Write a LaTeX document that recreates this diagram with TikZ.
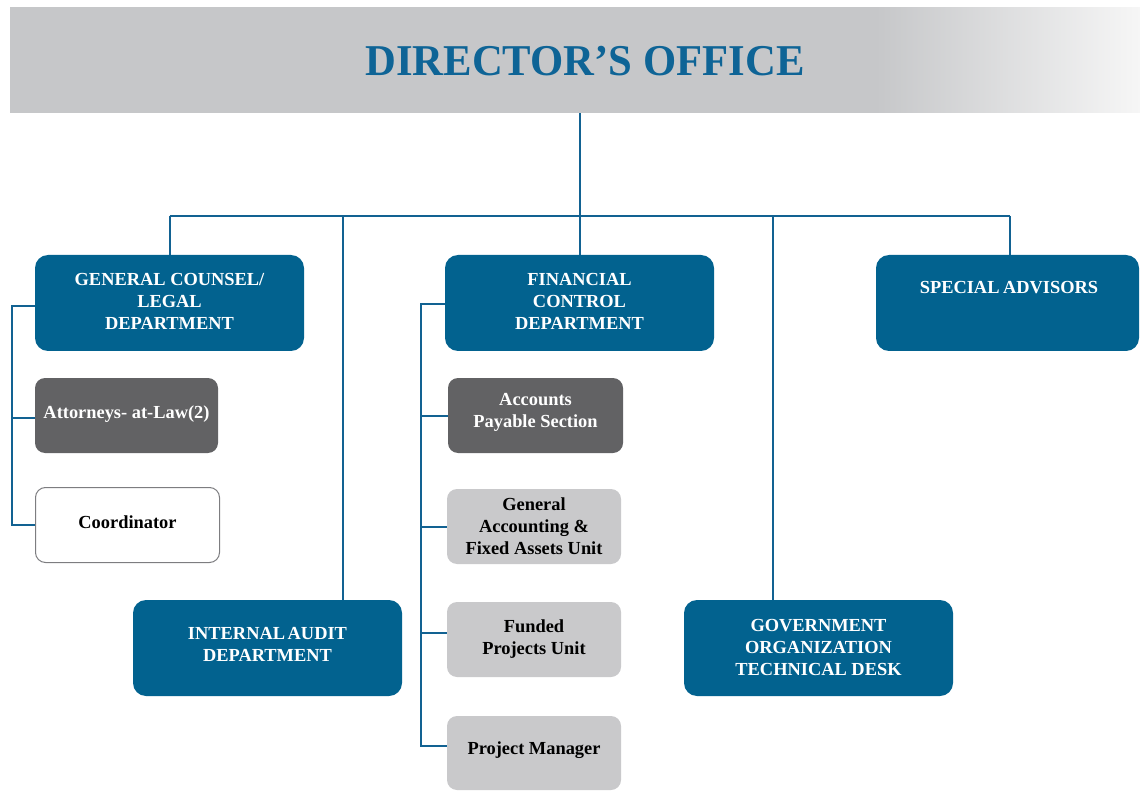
\documentclass[tikz,border=0pt]{standalone}
\usepackage{fontspec}
\setmainfont{Liberation Serif}
\usetikzlibrary{calc}
\definecolor{boxblue}{RGB}{2,98,143}
\definecolor{linkblue}{RGB}{18,98,146}
\definecolor{titleblue}{RGB}{14,100,150}
\definecolor{hdrgray}{RGB}{198,199,201}
\definecolor{hdrlight}{RGB}{246,246,246}
\definecolor{darkbox}{RGB}{98,98,100}
\definecolor{lightbox}{RGB}{201,201,203}
\definecolor{edgegray}{RGB}{125,125,128}
\pgfdeclarehorizontalshading{hdrshade}{100bp}{color(0bp)=(hdrgray); color(25bp)=(hdrgray); color(63.3bp)=(hdrgray); color(75bp)=(hdrlight); color(100bp)=(hdrlight)}
\tikzset{
  boxtext/.style={font=\fontsize{18.4}{22}\selectfont\bfseries, align=center, inner sep=0pt},
  bluebox/.style={boxtext, fill=boxblue, text=white, rounded corners=13pt},
  darkbx/.style={boxtext, fill=darkbox, text=white, rounded corners=10pt},
  lightbx/.style={boxtext, fill=lightbox, text=black, rounded corners=10pt},
  whitebx/.style={boxtext, fill=white, draw=edgegray, line width=1pt, text=black, rounded corners=10pt},
  conn/.style={draw=linkblue, line width=2pt}
}
\begin{document}
\begin{tikzpicture}[x=1pt,y=-1pt]
\useasboundingbox (0,0) rectangle (1140,791);
% header
\node[shading=hdrshade, minimum width=1130pt, minimum height=105pt, inner sep=0pt] (hdr) at (575,60.5) {};
\node[font=\fontsize{44}{50}\selectfont\bfseries, text=titleblue, inner sep=0pt] (title) at (585,61) {\scalebox{0.97}[1]{DIRECTOR’S OFFICE}};

% coordinates for bus and off-centre drops
\coordinate (bus) at (0,216);
\coordinate (iaT) at (343,600);
\coordinate (govT) at (773,600);
\coordinate (gcL) at (12,306);
\coordinate (fcL) at (421,304);

% connectors (drawn first, behind boxes)
\draw[conn] (hdr.south -| 579.5,0) -- (579.5,255);
\draw[conn] (169.5,216) -- (1010,216);
\draw[conn] (169.5,216) -- (169.5,255);
\draw[conn] (1010,216) -- (1010,255);
\draw[conn] (iaT |- bus) -- (iaT);
\draw[conn] (govT |- bus) -- (govT);

% department boxes
\node[bluebox, text depth=4pt, minimum width=269pt, minimum height=96pt] (gc) at (169.5,303) {GENERAL COUNSEL/\\LEGAL\\DEPARTMENT};
\node[bluebox, text depth=4pt, minimum width=269pt, minimum height=96pt] (fc) at (579.5,303) {FINANCIAL\\CONTROL\\DEPARTMENT};
\node[bluebox, minimum width=263pt, minimum height=96pt] (sa) at (1007.5,303) {};
\node[boxtext, text=white] (saT) at (1009,287.5) {SPECIAL\kern-1pt\ ADVISORS};
\node[bluebox, text depth=7pt, minimum width=269pt, minimum height=96pt] (ia) at (267.5,648) {INTERNAL\kern-2pt\ AUDIT\\DEPARTMENT};
\node[bluebox, text depth=2pt, minimum width=269pt, minimum height=96pt] (gov) at (818.5,648) {GOVERNMENT\\ORGANIZATION\\TECHNICAL DESK};

% legal sub-units
\node[darkbx, minimum width=183pt, minimum height=75pt] (att) at (126.5,415.5) {\raisebox{7pt}{Attorneys- at-Law(2)}};
\node[whitebx, minimum width=184pt, minimum height=75pt] (coord) at (127.5,525) {\raisebox{6pt}{Coordinator}};

% financial sub-units
\node[darkbx, text depth=10pt, minimum width=175pt, minimum height=75pt] (ap) at (535.5,415.5) {Accounts\\Payable Section};
\node[lightbx, minimum width=174pt, minimum height=75pt] (ga) at (534,526.5) {General\\Accounting \&\\Fixed Assets Unit};
\node[lightbx, minimum width=174pt, minimum height=75pt] (fp) at (534,639.5) {Funded\\Projects Unit};
\node[lightbx, minimum width=174pt, minimum height=74pt] (pm) at (534,753) {\raisebox{10pt}{Project Manager}};

% side connectors
\draw[conn] (gc.west |- gcL) -- (gcL) -- (gcL |- coord.west) -- (coord.west);
\draw[conn] (gcL |- 0,418) -- (att.west |- 0,418);
\draw[conn] (fc.west |- fcL) -- (fcL) -- (fcL |- 0,746) -- (pm.west |- 0,746);
\draw[conn] (fcL |- ap.west) -- (ap.west);
\draw[conn] (fcL |- ga.west) -- (ga.west);
\draw[conn] (fcL |- 0,633) -- (fp.west |- 0,633);
\end{tikzpicture}
\end{document}
